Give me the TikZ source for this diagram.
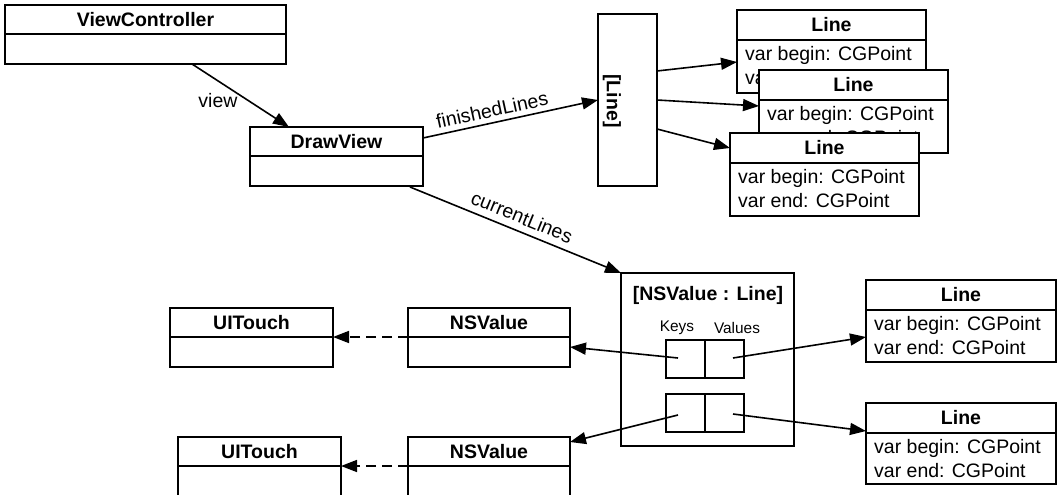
\documentclass[tikz,border=0pt]{standalone}
\usepackage{fontspec}
\setmainfont{Liberation Sans}
\usetikzlibrary{arrows.meta}
\tikzset{
  box/.style={draw, fill=white, line width=1.6pt, inner sep=0pt, outer sep=0pt},
  ttl/.style={font=\bfseries\fontsize{19.5}{22}\selectfont, inner sep=0pt},
  txt/.style={font=\fontsize{19.5}{22}\selectfont, inner sep=0pt, anchor=west},
  small/.style={font=\fontsize{15.4}{18}\selectfont, inner sep=0pt},
  lbl/.style={font=\fontsize{19.5}{22}\selectfont, inner sep=0pt},
  divl/.style={line width=1.6pt},
  arr/.style={line width=1.6pt, -{Triangle[length=16pt,width=12pt]}},
  darr/.style={arr, dash pattern=on 10pt off 6pt},
}
% name, x1, y1, x2, y2, ydiv, title
\newcommand\classbox[7]{%
  \node[box, minimum width={#4-#2}, minimum height={#5-#3}] (#1) at ({(#2+#4)/2},{(#3+#5)/2}) {};
  \draw[divl] (#2,#6) -- (#4,#6);
  \node[ttl] (#1-t) at ({(#2+#4)/2},{(#3+#6)/2}) {#7};
}
% name, x1, y1, x2, y2, ydiv (Line class with two attributes)
\newcommand\linebox[6]{%
  \classbox{#1}{#2}{#3}{#4}{#5}{#6}{Line}
  \node[txt] (#1-a) at ({#2+8},{#6+15.5}) {var begin: CGPoint};
  \node[txt] (#1-b) at ({#2+8},{#6+37.5}) {var end: CGPoint};
}
\begin{document}
\begin{tikzpicture}[x=1pt, y=-1pt]
\useasboundingbox (0,0) rectangle (1058,495);

\classbox{vc}{5}{5}{286}{64}{34}{ViewController}
\classbox{dv}{250}{127}{423}{186}{156}{DrawView}

% [Line] array
\node[box, minimum width=59, minimum height=172] (arr) at (627.5,100) {};
\node[ttl, rotate=-90] (arr-t) at (612,101) {[Line]};

\linebox{l1}{737}{10}{926}{93}{40}
\linebox{l2}{759}{70}{948}{153}{100}
\linebox{l3}{730}{133}{919}{216}{163}

% dictionary
\node[box, minimum width=173, minimum height=173] (dict) at (707.5,359.5) {};
\node[ttl] (dict-t) at (708,295) {[NSValue : Line]};
\node[small] (keys) at (677,328) {Keys};
\node[small] (vals) at (737,328) {Values};
\node[box, minimum width=39, minimum height=38] (k1) at (685.5,359) {};
\node[box, minimum width=39, minimum height=38] (v1) at (724.5,359) {};
\node[box, minimum width=39, minimum height=38] (k2) at (685.5,413) {};
\node[box, minimum width=39, minimum height=38] (v2) at (724.5,413) {};

\linebox{l4}{866}{280}{1056}{362}{310}
\linebox{l5}{866}{403}{1056}{484}{433}

\classbox{nv1}{408}{308}{570}{367}{337}{NSValue}
\classbox{nv2}{408}{437}{570}{497}{466}{NSValue}
\classbox{ut1}{170}{308}{333}{367}{337}{UITouch}
\classbox{ut2}{178}{437}{341}{497}{466}{UITouch}

% connector end points
\coordinate (vcS) at (192,64);
\coordinate (dvN) at (289,127);
\coordinate (dvE) at (423,138);
\coordinate (dvB) at (410,187);
\coordinate (a1) at (657,71);
\coordinate (a2) at (657,100);
\coordinate (a3) at (657,129);
\coordinate (l1W) at (737,62);
\coordinate (l2W) at (759,106);
\coordinate (l3W) at (730,148);
\coordinate (k1c) at (678,358);
\coordinate (v1c) at (733,358);
\coordinate (k2c) at (678,415);
\coordinate (v2c) at (733,414);
\coordinate (l4W) at (866,337);
\coordinate (l5W) at (866,431);
\coordinate (nv1E) at (570,347);
\coordinate (nv2E) at (570,442);
\coordinate (nv1W) at (408,337);
\coordinate (nv2W) at (408,466);
\coordinate (ut1E) at (333,337);
\coordinate (ut2E) at (341,466);

\draw[arr] (vcS) -- (dvN);
\node[lbl] (view) at (218,101) {view};
\draw[arr] (dvE) -- (arr.west);
\node[lbl, rotate=12.3] (fin) at (492,110) {finishedLines};
\draw[arr] (dvB) -- (dict.north west);
\node[lbl, rotate=-22.2] (cur) at (522,217) {currentLines};

\draw[arr] (a1) -- (l1W);
\draw[arr] (a2) -- (l2W);
\draw[arr] (a3) -- (l3W);

\draw[arr] (v1c) -- (l4W);
\draw[arr] (v2c) -- (l5W);
\draw[arr] (k1c) -- (nv1E);
\draw[arr] (k2c) -- (nv2E);

\draw[darr] (nv1W) -- (ut1E);
\draw[darr] (nv2W) -- (ut2E);
\end{tikzpicture}
\end{document}
